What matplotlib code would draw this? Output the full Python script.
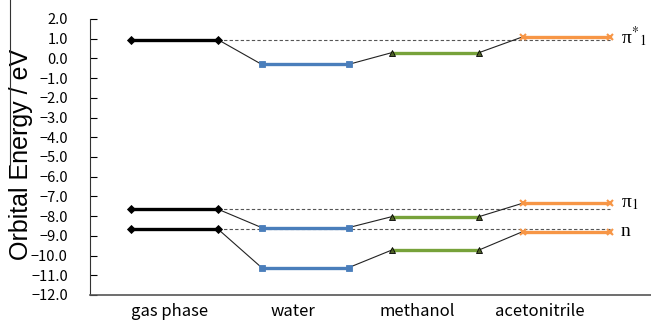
import matplotlib.pyplot as plt

# orbital energies (eV) for each environment
solvents = ['gas phase', 'water', 'methanol', 'acetonitrile']
pi_star = [0.95, -0.3, 0.3, 1.1]
pi_1 = [-7.65, -8.58, -8.02, -7.34]
n_orb = [-8.66, -10.61, -9.71, -8.78]

level_names = ['π$^{*}{}_{1}$', 'π$_{1}$', 'n']
yticks = [2.0, 1.0, 0.0, -1.0, -2.0, -3.0, -4.0, -5.0, -6.0, -7.0,
          -8.0, -9.0, -10.0, -11.0, -12.0]

colors = ['#000000', '#4A7EBB', '#77A23A', '#F79646']
markers = ['D', 's', '^', 'x']
msizes = [4, 5, 5, 5]

plt.rcParams['font.family'] = ['Liberation Sans', 'DejaVu Sans']
plt.rcParams['mathtext.fontset'] = 'stix'

fig = plt.figure(figsize=(6.51, 3.26), dpi=100)
ax = fig.add_axes([90 / 651, 31 / 326, 561 / 651, 276 / 326])

levels = [pi_star, pi_1, n_orb]
for lev in levels:
    # dashed reference line at gas phase level
    ax.plot([3, 12], [lev[0], lev[0]], color='#555555', lw=0.8,
            ls=(0, (3, 2)), zorder=1)
    # thin connectors between neighbouring columns
    for i in range(len(solvents) - 1):
        ax.plot([3 * i + 3, 3 * i + 4], [lev[i], lev[i + 1]],
                color='#222222', lw=0.8, zorder=2)
    # level bars
    for i in range(len(solvents)):
        mec = 'black' if markers[i] == '^' else colors[i]
        mfc = '#4F6228' if markers[i] == '^' else colors[i]
        ax.plot([3 * i + 1, 3 * i + 3], [lev[i], lev[i]], color=colors[i],
                lw=2.4, marker=markers[i], ms=msizes[i], mfc=mfc, mec=mec,
                mew=1.5 if markers[i] == 'x' else 0.6, zorder=3)

for name, lev in zip(level_names, levels):
    ax.text(12.25, lev[-1], name, family='Liberation Serif', fontsize=14,
            va='center', ha='left')

ax.set_ylim(-12, 2)
ax.set_xlim(0.06, 12.94)
ax.set_yticks(yticks)
ax.set_yticklabels([('%.1f' % v).replace('-', '\u2212') for v in yticks],
                   fontsize=10.5, family='Noto Sans CJK JP')
ax.tick_params(axis='y', direction='in', length=5, pad=16)
ax.set_xticks([1.88, 4.72, 7.57, 10.39])
ax.set_xticklabels(solvents, fontsize=12, family='Noto Sans CJK JP')
ax.tick_params(axis='x', length=0, pad=6)
ax.spines['top'].set_visible(False)
ax.spines['right'].set_visible(False)
ax.spines['left'].set_color('#333333')
ax.spines['bottom'].set_color('#555555')
ax.spines['bottom'].set_linewidth(1.2)
ax.set_ylabel('Orbital Energy / eV', fontsize=18)
ax.yaxis.set_label_coords(-0.102, 0.51)

# stray border line seen at the left edge of the original
fig.add_artist(plt.Line2D([10 / 651, 10 / 651], [1, 1 - 165 / 326],
                          color='#333333', lw=0.8))

fig.savefig('out.png', dpi=100)
